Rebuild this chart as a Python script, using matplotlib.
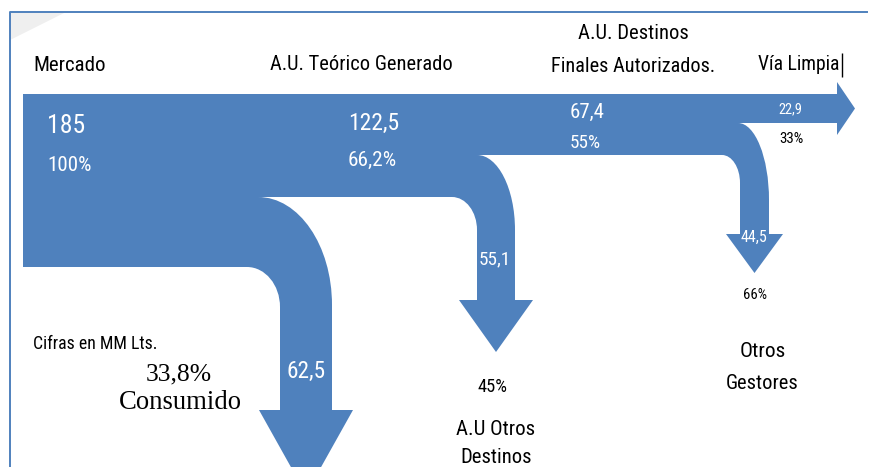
import matplotlib
matplotlib.use('Agg')
import matplotlib.pyplot as plt
from matplotlib import font_manager
from matplotlib.font_manager import FontProperties
from matplotlib.path import Path
from matplotlib.patches import PathPatch, Polygon


# datos del diagrama (cifras en MM Lts.)
etapas = ['Mercado', 'A.U. Teórico Generado', 'A.U. Destinos', 'Vía Limpia']
valores_principales = [185, 122.5, 67.4, 22.9]
porcentajes_principales = [100, 66.2, 55, 33]
valores_salida = [62.5, 55.1, 44.5]
porcentajes_salida = [33.8, 45, 66]
salidas = ['Consumido', 'A.U Otros\nDestinos', 'Otros\nGestores']

AZUL = '#4F81BD'


def buscar_estrecha():
    # una sans estrecha parecida a Calibri, si existe
    fuentes = font_manager.fontManager.ttflist
    preferidas = ['Liberation Sans Narrow', 'Roboto Condensed', 'Open Sans Condensed',
                  'Noto Sans Condensed', 'Noto Sans', 'Open Sans', 'Roboto', 'DejaVu Sans']
    estrechas = ('condensed', 'semi-condensed', 'extra-condensed')
    for nombre in preferidas:
        for f in fuentes:
            if f.name != nombre or f.style != 'normal' or f.weight not in (400, 'normal', 'regular'):
                continue
            if 'Narrow' in nombre or 'Condensed' in nombre or f.stretch in estrechas:
                return FontProperties(fname=f.fname)
    return FontProperties(family='DejaVu Sans')


SANS = buscar_estrecha()
SERIF = FontProperties(family=['Liberation Serif', 'DejaVu Serif'])


def fmt(v):
    if float(v).is_integer():
        return str(int(v))
    return f'{v:.1f}'.replace('.', ',')


fig = plt.figure(figsize=(8.7, 4.67), dpi=100)
ax = fig.add_axes([0, 0, 1, 1])
ax.set_xlim(0, 870)
ax.set_ylim(467, 0)
ax.axis('off')
renderer = fig.canvas.get_renderer()


def texto(x, y, s, ancho, ha='left', color='black', fp=SANS):
    # ajusta el tamaño para que el texto ocupe el ancho de la referencia
    t = ax.text(x, y, s, fontproperties=fp, fontsize=12, color=color, ha=ha, va='baseline')
    w = t.get_window_extent(renderer).width
    t.set_fontsize(12 * ancho / w)
    return t


# sombra gris y borde
ax.add_patch(Polygon([(10, 13), (64, 13), (10, 40)], closed=True, color='#efefef', lw=0))
ax.plot([10, 10, 867], [467, 12, 12], color=AZUL, lw=1.4)

# contorno de las flechas
K = 0.5523
verts, codes = [], []


def mover(p):
    verts.append(p)
    codes.append(Path.MOVETO)


def linea(*ps):
    for p in ps:
        verts.append(p)
        codes.append(Path.LINETO)


def curva_baja(p1):
    # de horizontal (hacia la derecha) a vertical (hacia abajo)
    x0, y0 = verts[-1]
    x1, y1 = p1
    verts.extend([(x0 + K * (x1 - x0), y0), (x1, y1 - K * (y1 - y0)), p1])
    codes.extend([Path.CURVE4] * 3)


def curva_sube(p1):
    # de vertical (hacia arriba) a horizontal (hacia la izquierda)
    x0, y0 = verts[-1]
    x1, y1 = p1
    verts.extend([(x0, y0 - K * (y0 - y1)), (x1 + K * (x0 - x1), y1), p1])
    codes.extend([Path.CURVE4] * 3)


mover((23, 94))
linea((837, 94), (837, 82), (855, 108.5), (837, 135), (837, 123), (738, 123))
curva_baja((769, 200))
linea((769, 234), (783, 234), (754.5, 273), (726, 234), (740, 234), (740, 183))
curva_sube((722, 155))
linea((477, 155))
curva_baja((515, 230))
linea((515, 300), (533, 300), (496, 352), (459, 300), (477, 300), (477, 230))
curva_sube((452, 197))
linea((258, 197))
curva_baja((332, 305))
linea((332, 410), (353, 410), (306, 494), (259, 410), (280, 410), (280, 307))
curva_sube((247, 267))
linea((23, 267))
verts.append((23, 94))
codes.append(Path.CLOSEPOLY)
ax.add_patch(PathPatch(Path(verts, codes), facecolor=AZUL, edgecolor='none'))

# titulos de etapas
texto(33, 71, etapas[0], 72)
texto(270, 70, etapas[1], 182)
texto(633, 39, etapas[2], 110, ha='center')
texto(633, 72, 'Finales Autorizados.', 163, ha='center')
texto(758, 70, etapas[3], 82)
ax.vlines(842, 53, 77, color='black', lw=1)

# valores en la banda principal
texto(47, 133, fmt(valores_principales[0]), 38, color='white')
texto(47, 171, fmt(porcentajes_principales[0]) + '%', 44, color='white')
texto(348, 130, fmt(valores_principales[1]), 51, color='white')
texto(348, 166, fmt(porcentajes_principales[1]) + '%', 49, color='white')
texto(570, 118, fmt(valores_principales[2]), 35, color='white')
texto(570, 148, fmt(porcentajes_principales[2]) + '%', 31, color='white')
texto(790, 113, fmt(valores_principales[3]), 24, ha='center', color='white')
texto(791, 143, fmt(porcentajes_principales[3]) + '%', 24, ha='center')

# salidas
texto(306, 378, fmt(valores_salida[0]), 39, ha='center', color='white')
texto(495, 264, fmt(valores_salida[1]), 32, ha='center', color='white')
texto(754, 242, fmt(valores_salida[2]), 27, ha='center', color='white')

texto(33, 349, 'Cifras en MM Lts.', 124)
texto(179, 380, fmt(porcentajes_salida[0]) + '%', 66, ha='center', fp=SERIF)
texto(180, 409, salidas[0], 123, ha='center', fp=SERIF)

texto(493, 392, fmt(porcentajes_salida[1]) + '%', 30, ha='center')
l1, l2 = salidas[1].split('\n')
texto(496, 435, l1, 79, ha='center')
texto(496, 463, l2, 71, ha='center')

texto(755, 299, fmt(porcentajes_salida[2]) + '%', 24, ha='center')
l1, l2 = salidas[2].split('\n')
texto(763, 357, l1, 46, ha='center')
texto(762, 389, l2, 72, ha='center')

fig.savefig('out.png', dpi=100)
